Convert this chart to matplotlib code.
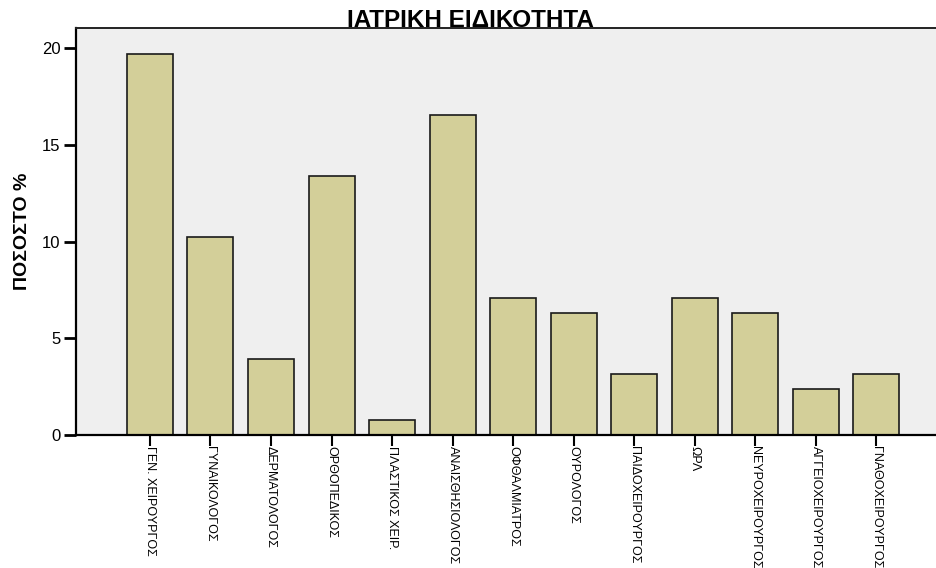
import matplotlib
matplotlib.use("Agg")
import matplotlib.pyplot as plt

categories = ["ΓΕΝ. ΧΕΙΡΟΥΡΓΟΣ", "ΓΥΝΑΙΚΟΛΟΓΟΣ", "ΔΕΡΜΑΤΟΛΟΓΟΣ", "ΟΡΘΟΠΕΔΙΚΟΣ",
              "ΠΛΑΣΤΙΚΟΣ ΧΕΙΡ.", "ΑΝΑΙΣΘΗΣΙΟΛΟΓΟΣ", "ΟΦΘΑΛΜΙΑΤΡΟΣ", "ΟΥΡΟΛΟΓΟΣ",
              "ΠΑΙΔΟΧΕΙΡΟΥΡΓΟΣ", "ΩΡΛ", "ΝΕΥΡΟΧΕΙΡΟΥΡΓΟΣ", "ΑΓΓΕΙΟΧΕΙΡΟΥΡΓΟΣ",
              "ΓΝΑΘΟΧΕΙΡΟΥΡΓΟΣ"]
percent = [19.69, 10.24, 3.94, 13.39, 0.79, 16.54, 7.09, 6.30, 3.15, 7.09, 6.30, 2.36, 3.15]
yticks = [0, 5, 10, 15, 20]
title = "ΙΑΤΡΙΚΗ ΕΙΔΙΚΟΤΗΤΑ"
ylabel = "ΠΟΣΟΣΤΟ %"

plt.rcParams['font.family'] = ['Liberation Sans', 'DejaVu Sans']

fig = plt.figure(figsize=(9.37, 5.68), dpi=100)
ax = fig.add_axes([76/937, 1-435/568, 1-76/937, (435-28)/568])
ax.set_facecolor('#EFEFEF')

x = list(range(len(categories)))
ax.bar(x, percent, width=0.76, color='#D3CF99', edgecolor='#1a1a1a', linewidth=1.2, zorder=2)

ax.set_xlim(-1.22, len(categories) - 1 + 1.0)
ax.set_ylim(0, 21.05)
ax.set_yticks(yticks)
ax.set_yticklabels([str(v) for v in yticks], fontsize=12)
ax.set_xticks(x)
ax.set_xticklabels(categories, rotation=-90, fontsize=9,
                   family=['Liberation Sans Narrow', 'Liberation Sans', 'DejaVu Sans'],
                   ha='center', va='top')
ax.tick_params(axis='y', length=9, width=2, direction='out', pad=2)
ax.tick_params(axis='x', length=8, width=1.5, direction='out', pad=0)

for s in ['left', 'bottom']:
    ax.spines[s].set_linewidth(1.6)
    ax.spines[s].set_color('black')
ax.spines['top'].set_linewidth(1.4)
ax.spines['top'].set_color('#222222')
ax.spines['right'].set_visible(False)

ax.set_ylabel(ylabel, fontsize=14, fontweight='bold', labelpad=8)
fig.text(470/937, 1-27/568, title, fontsize=17.5, fontweight='bold', ha='center', va='baseline')

fig.savefig('out.png', dpi=100)
